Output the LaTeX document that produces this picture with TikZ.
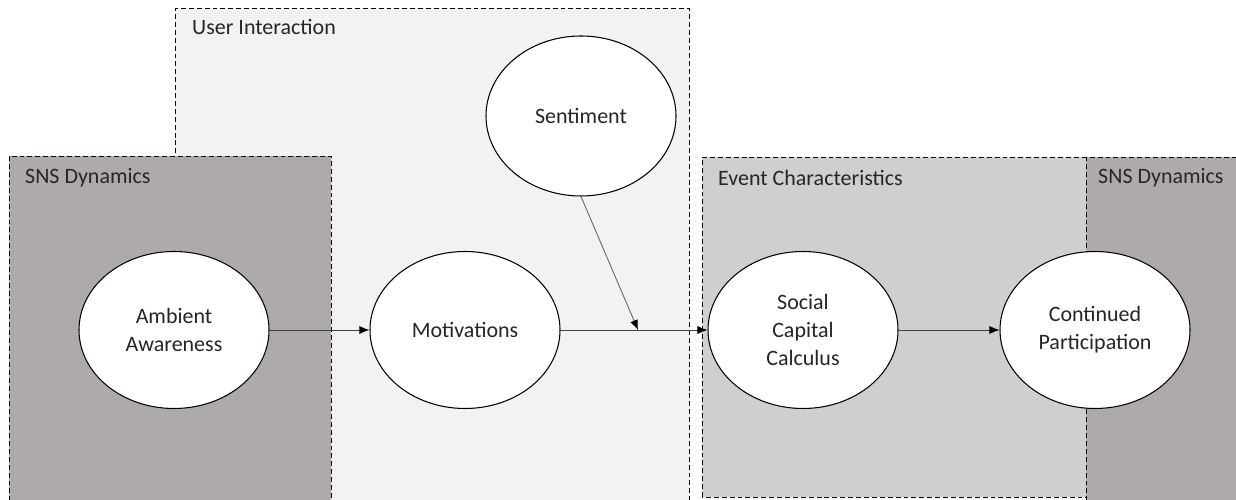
\documentclass[tikz,border=0pt]{standalone}
\usepackage{fontspec}
\setmainfont{Carlito}
\usetikzlibrary{arrows.meta, positioning, shapes.geometric}
\definecolor{uifill}{HTML}{F2F2F2}
\definecolor{ecfill}{HTML}{D0CECE}
\definecolor{snsfill}{HTML}{AEAAAA}
\definecolor{linegray}{HTML}{404040}

\begin{document}
\begin{tikzpicture}[>={Latex[length=2mm,width=1.6mm,black]},
  txt/.style={font=\fontsize{12.5}{16}\selectfont, text=black!85},
  grp/.style={draw=black, dash pattern=on 2.8pt off 1.7pt, line width=0.5pt},
  construct/.style={ellipse, draw=black, fill=white, line width=0.6pt, txt, align=center, minimum width=3.8cm, minimum height=3.14cm, inner sep=0pt},
  link/.style={->, draw=linegray, line width=0.5pt}]
\useasboundingbox (0,0) rectangle (24.72,10);
\clip (0,0) rectangle (24.72,10);

% groups
\draw[grp, fill=uifill] (3.51,-0.5) rectangle (13.79,9.83);
\draw[grp, fill=snsfill] (0.18,-0.5) rectangle (6.62,6.88);
\draw[grp, fill=ecfill] (14.04,0.06) rectangle (21.72,6.86);
\draw[grp, fill=snsfill] (21.72,-0.5) rectangle (25,6.86);

\node[txt, anchor=west] (uilabel) at (3.72,9.46) {User Interaction};
\node[txt, anchor=west] (snslabelA) at (0.38,6.45) {SNS Dynamics};
\node[txt, anchor=west] (eclabel) at (14.24,6.45) {Event Characteristics};
\node[txt, anchor=west] (snslabelB) at (21.84,6.45) {SNS Dynamics};

% constructs
\node[construct] (AA) at (3.48,3.4) {Ambient\\Awareness};
\node[construct] (MO) at (9.3,3.4) {Motivations};
\node[construct] (SC) at (16.06,3.4) {Social\\Capital\\Calculus};
\node[construct] (CP) at (21.9,3.4) {Continued\\Participation};
\node[construct, minimum height=3.2cm] (SE) at (11.62,7.68) {Sentiment};
\coordinate (mod) at (12.76,3.4);

% paths
\draw[link] (AA) -- (MO);
\draw[link] (MO) -- (SC);
\draw[link, draw=black!60] (SE.south) -- (mod);
\draw[link] (SC) -- (CP);
\end{tikzpicture}
\end{document}
